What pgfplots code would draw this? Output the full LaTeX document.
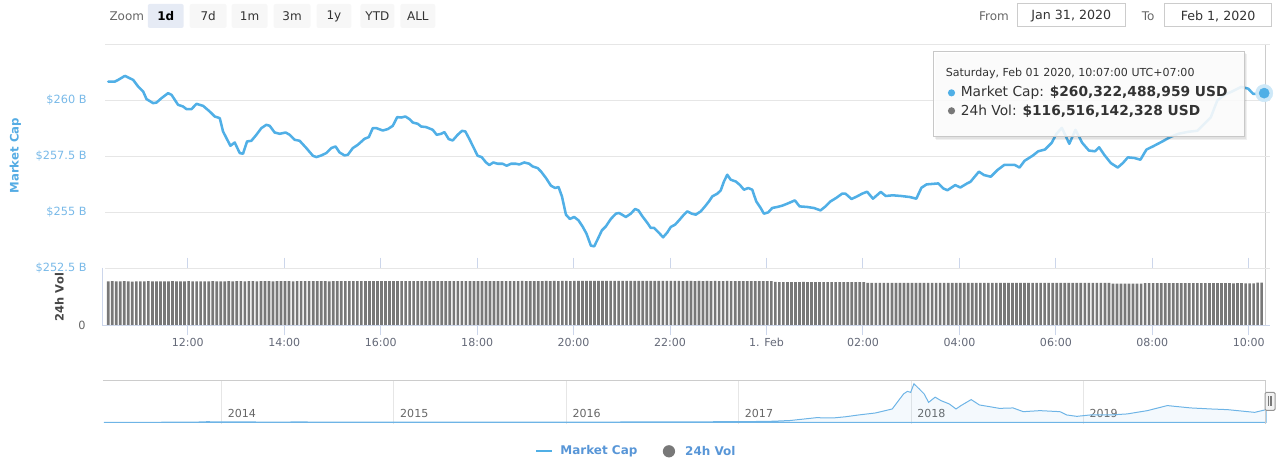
\documentclass[border=0pt]{standalone}
\usepackage{pgfplots}
\pgfplotsset{compat=1.18}
\usepackage{pgfplotstable}
\usepackage{fontspec}
\setmainfont{DejaVu Sans}
\definecolor{mcblue}{RGB}{80,175,230}
\definecolor{halo}{RGB}{205,232,248}
\definecolor{lblblue}{RGB}{120,185,232}
\definecolor{ttlblue}{RGB}{85,172,228}
\definecolor{gridc}{RGB}{230,230,230}
\definecolor{axc}{RGB}{204,214,235}
\definecolor{volgray}{RGB}{120,120,120}
\definecolor{tickc}{RGB}{100,105,120}
\definecolor{navline}{RGB}{110,180,230}
\definecolor{legblue}{RGB}{88,150,215}
\definecolor{btnbg}{RGB}{247,247,247}
\definecolor{btnsel}{RGB}{230,235,245}
\definecolor{txtc}{RGB}{51,51,51}
\definecolor{lgray}{RGB}{204,204,204}
\definecolor{midgray}{RGB}{102,102,102}
\definecolor{volttl}{RGB}{70,70,70}
\definecolor{hdlborder}{RGB}{150,150,150}
\definecolor{hdlfill}{RGB}{242,242,242}
\definecolor{hdlline}{RGB}{120,120,120}
\definecolor{ttborder}{RGB}{200,200,200}

\pgfplotstableread{
h v
10.350 260.839
10.489 260.839
10.557 260.915
10.696 261.094
10.867 260.915
10.971 260.616
11.075 260.393
11.145 260.054
11.282 259.875
11.352 259.902
11.455 260.098
11.592 260.321
11.663 260.246
11.799 259.799
11.903 259.723
11.973 259.607
12.077 259.607
12.180 259.844
12.317 259.754
12.455 259.500
12.559 259.277
12.663 259.205
12.731 258.607
12.801 258.312
12.884 257.969
12.973 258.116
13.077 257.643
13.145 257.612
13.228 258.161
13.319 258.192
13.422 258.460
13.526 258.759
13.629 258.906
13.698 258.862
13.801 258.562
13.905 258.504
14.029 258.562
14.112 258.460
14.215 258.237
14.319 258.192
14.458 257.866
14.594 257.522
14.665 257.464
14.768 257.536
14.872 257.643
14.975 257.866
15.064 257.937
15.147 257.670
15.251 257.536
15.319 257.567
15.422 257.866
15.526 258.013
15.665 258.281
15.754 258.357
15.836 258.759
15.907 258.759
16.043 258.652
16.147 258.714
16.251 258.862
16.342 259.250
16.424 259.232
16.513 259.277
16.596 259.161
16.665 259.009
16.768 258.951
16.839 258.830
16.942 258.804
17.079 258.683
17.161 258.460
17.253 258.504
17.321 258.580
17.410 258.268
17.493 258.205
17.596 258.460
17.687 258.638
17.756 258.607
17.839 258.268
17.921 257.911
18.010 257.522
18.093 257.464
18.184 257.223
18.253 257.107
18.335 257.223
18.424 257.165
18.528 257.165
18.611 257.076
18.702 257.165
18.805 257.165
18.874 257.134
18.977 257.223
19.081 257.165
19.149 257.045
19.253 256.973
19.323 256.821
19.427 256.527
19.530 256.183
19.619 256.080
19.687 256.125
19.758 255.705
19.841 254.888
19.923 254.696
20.012 254.786
20.101 254.634
20.184 254.366
20.267 254.040
20.358 253.504
20.427 253.473
20.495 253.772
20.586 254.187
20.669 254.366
20.772 254.696
20.876 254.933
20.944 254.964
21.083 254.786
21.186 254.933
21.275 255.143
21.344 255.080
21.427 254.812
21.530 254.518
21.600 254.295
21.669 254.295
21.772 254.071
21.855 253.875
21.944 254.098
22.015 254.339
22.104 254.442
22.186 254.634
22.269 254.844
22.358 255.036
22.449 254.933
22.532 254.888
22.636 255.036
22.725 255.259
22.807 255.482
22.876 255.705
22.979 255.826
23.050 255.973
23.118 256.375
23.186 256.674
23.257 256.451
23.360 256.375
23.443 256.228
23.532 256.004
23.621 256.080
23.704 256.004
23.787 255.482
23.878 255.187
23.946 254.933
24.035 254.991
24.118 255.187
24.222 255.232
24.325 255.290
24.429 255.379
24.588 255.527
24.685 255.259
24.843 255.232
24.981 255.187
25.120 255.080
25.224 255.259
25.327 255.482
25.443 255.634
25.567 255.826
25.638 255.826
25.762 255.589
25.878 255.705
25.981 255.826
26.085 255.915
26.207 255.603
26.369 255.906
26.472 255.723
26.617 255.754
26.791 255.723
26.965 255.679
27.106 255.603
27.211 256.089
27.317 256.241
27.563 256.286
27.667 256.058
27.752 255.982
27.913 256.210
28.019 256.103
28.159 256.286
28.230 256.362
28.404 256.812
28.509 256.661
28.650 256.585
28.791 256.888
28.932 257.116
29.143 257.116
29.246 256.996
29.352 257.299
29.528 257.540
29.634 257.723
29.772 257.799
29.913 258.103
30.012 258.504
30.124 258.772
30.278 258.058
30.406 258.683
30.545 258.103
30.685 257.754
30.812 257.723
30.896 257.902
31.002 257.567
31.141 257.192
31.282 256.996
31.387 257.192
31.493 257.451
31.634 257.420
31.752 257.344
31.878 257.799
32.021 257.951
32.195 258.147
32.371 258.357
32.538 258.504
32.745 258.594
32.932 258.638
33.077 258.951
33.211 259.237
33.346 259.991
33.491 260.246
33.636 260.379
33.843 260.603
33.988 260.522
34.091 260.290
34.195 260.290
34.319 260.322
}\mcdata

\pgfplotstableread{
yr v
2013.32 1.5
2013.60 1.2
2013.85 5
2013.92 14
2013.96 10
2014.05 11
2014.15 8
2014.30 6
2014.45 8
2014.60 6
2014.80 5
2014.95 4.5
2015.05 3
2015.30 3.5
2015.50 4.5
2015.70 3.8
2015.85 6
2016.00 7
2016.30 7
2016.45 11
2016.60 10
2016.80 11
2016.95 16
2017.10 18
2017.20 24
2017.30 40
2017.40 80
2017.45 100
2017.55 95
2017.62 120
2017.696 159
2017.794 202
2017.891 288
2017.957 613
2017.979 667
2017.998 645
2018.017 830
2018.047 722
2018.076 613
2018.102 430
2018.140 542
2018.173 469
2018.222 396
2018.261 288
2018.290 361
2018.349 490
2018.397 374
2018.446 344
2018.513 301
2018.592 310
2018.651 230
2018.748 252
2018.864 230
2018.903 159
2018.962 129
2019.040 159
2019.156 159
2019.254 181
2019.371 252
2019.487 361
2019.527 346
2019.624 310
2019.740 288
2019.838 273
2019.994 215
2020.060 273
}\navdata

\begin{document}
\begin{tikzpicture}
\begin{scope}[x=0.75pt,y=-0.75pt]
\path[use as bounding box] (0,0) rectangle (1280,463);
% crosshair
\draw[lgray, line width=0.75pt] (1267,44) -- (1267,326);
\end{scope}

% ---------- main market cap panel ----------
\begin{axis}[
  at={(78.75pt,-201.375pt)}, anchor=south west,
  width=875.25pt, height=168pt, scale only axis,
  xmin=10.28, xmax=34.44, ymin=252.5, ymax=262.5,
  axis line style={draw=none},
  xtick=\empty,
  ytick={252.5,255,257.5,260,262.5},
  yticklabels={\$252.5 B,\$255 B,\$257.5 B,\$260 B,{}},
  ymajorgrids, grid style={gridc, line width=0.75pt},
  major tick length=0pt,
  yticklabel style={font=\fontsize{8.5}{10}\selectfont, text=lblblue, inner sep=0pt, xshift=-13.5pt},
  clip=false,
]
\addplot[mcblue, line width=1.9pt, line join=round, line cap=round] table[x=h,y=v]{\mcdata};
\addplot[only marks, mark=*, mark size=6.5pt, color=halo, mark options={solid, fill=halo, draw=halo}] coordinates {(34.319,260.322)};
\addplot[only marks, mark=*, mark size=3.8pt, color=mcblue, mark options={solid, fill=mcblue, draw=mcblue}] coordinates {(34.319,260.322)};
\end{axis}

% ---------- volume panel ----------
\begin{axis}[
  at={(78.75pt,-244.5pt)}, anchor=south west,
  width=875.25pt, height=43.5pt, scale only axis,
  xmin=10.28, xmax=34.44, ymin=0, ymax=160,
  axis line style={draw=none},
  xtick={12,14,16,18,20,22,24,26,28,30,32,34},
  xticklabels={12:00,14:00,16:00,18:00,20:00,22:00,1. Feb,02:00,04:00,06:00,08:00,10:00},
  xtick style={draw=axc, line width=0.75pt},
  tick align=outside, major tick length=7.5pt,
  xticklabel style={font=\fontsize{8.3}{10}\selectfont, text=tickc, yshift=1.5pt},
  ytick={0}, yticklabels={0}, ytick style={draw=none},
  yticklabel style={font=\fontsize{8.5}{10}\selectfont, text=midgray, inner sep=0pt, xshift=-6.75pt},
  ybar, bar width=2pt,
]
\addplot[fill=volgray, draw=none] table[x expr=10.35+\coordindex/12, y index=0, header=false, row sep=\\] {
121.8\\122.3\\121.6\\122.0\\122.4\\121.9\\121.5\\122.2\\122.0\\121.7\\122.3\\122.1\\
121.9\\122.2\\121.6\\122.0\\122.4\\121.8\\122.1\\121.7\\122.3\\122.0\\121.9\\122.2\\
122.0\\121.8\\122.3\\122.1\\121.7\\122.2\\122.4\\122.0\\122.6\\122.3\\122.1\\122.5\\
122.4\\122.2\\122.6\\122.3\\122.5\\122.1\\122.4\\122.7\\122.3\\122.5\\122.2\\122.6\\
122.4\\122.8\\122.5\\122.3\\122.6\\122.4\\122.7\\122.2\\122.5\\122.6\\122.3\\122.4\\
122.7\\122.5\\122.8\\122.4\\122.6\\122.3\\122.5\\122.7\\122.4\\122.6\\122.8\\122.5\\
122.6\\122.4\\122.7\\122.5\\122.3\\122.6\\122.8\\122.4\\122.5\\122.7\\122.6\\122.4\\
122.5\\122.7\\122.3\\122.6\\122.4\\122.8\\122.5\\122.6\\122.7\\122.4\\122.5\\122.6\\
122.6\\122.8\\122.5\\122.7\\122.9\\122.6\\122.8\\123.0\\122.7\\122.9\\122.8\\122.6\\
122.9\\123.1\\122.8\\123.0\\122.9\\123.2\\123.0\\122.8\\123.1\\123.3\\123.0\\123.2\\
123.1\\123.3\\123.0\\123.2\\123.4\\123.1\\123.3\\123.2\\123.0\\123.4\\123.2\\123.1\\
123.3\\123.0\\123.2\\123.4\\123.1\\123.3\\123.2\\123.0\\123.1\\123.3\\123.2\\122.9\\
123.0\\123.2\\122.9\\123.1\\122.8\\123.0\\122.9\\123.1\\122.8\\122.9\\123.0\\122.7\\
122.8\\122.9\\122.6\\122.8\\122.7\\122.9\\122.6\\122.8\\122.7\\122.5\\120.2\\120.0\\
119.8\\120.1\\119.9\\120.0\\119.7\\120.2\\119.9\\120.0\\119.8\\120.1\\119.9\\119.7\\
120.0\\119.8\\120.1\\119.9\\119.7\\120.0\\119.8\\119.9\\119.7\\117.9\\117.7\\118.0\\
117.8\\117.6\\117.9\\117.7\\118.0\\117.8\\117.6\\117.9\\117.7\\117.8\\118.0\\117.7\\
117.9\\117.6\\117.8\\117.7\\118.0\\117.8\\117.9\\117.6\\117.8\\117.7\\117.9\\117.8\\
117.6\\117.9\\117.7\\117.8\\118.0\\117.7\\117.9\\117.6\\117.8\\117.9\\117.7\\117.8\\
117.9\\117.6\\117.8\\117.7\\118.0\\117.8\\117.6\\117.9\\117.7\\117.8\\117.9\\117.6\\
117.8\\117.7\\117.9\\117.6\\117.8\\117.9\\117.7\\117.8\\117.6\\117.9\\115.8\\115.6\\
115.7\\115.5\\115.8\\115.6\\115.7\\115.5\\117.2\\117.0\\117.1\\116.9\\117.2\\117.0\\
116.8\\117.1\\116.9\\117.0\\117.2\\116.8\\117.0\\116.9\\117.1\\116.8\\117.0\\116.9\\
117.1\\116.8\\117.0\\116.9\\116.7\\117.0\\116.8\\116.6\\116.7\\116.5\\118.4\\118.6\\
};
\end{axis}

% ---------- navigator ----------
\begin{axis}[
  at={(77.25pt,-318.75pt)}, anchor=south west,
  width=876.75pt, height=33pt, scale only axis,
  xmin=2013.311, xmax=2020.083, ymin=-43, ymax=903,
  axis line style={draw=none},
  xtick={2014,2015,2016,2017,2018,2019},
  xticklabels={2014,2015,2016,2017,2018,2019},
  xmajorgrids, grid style={gridc, line width=0.75pt},
  major tick length=0pt,
  xticklabel style={font=\fontsize{8.3}{10}\selectfont, text=midgray, anchor=south west, inner sep=0pt, xshift=4.5pt, yshift=4.5pt},
  ytick=\empty,
]
\addplot[draw=navline, line width=0.75pt, fill=navline, fill opacity=0.08] table[x=yr,y=v]{\navdata} \closedcycle;
\end{axis}

\begin{scope}[x=0.75pt,y=-0.75pt]
% volume axis lines
\draw[axc, line width=0.75pt] (102.5,268) -- (102.5,326.5);
\draw[axc, line width=0.75pt] (102,326.5) -- (1272,326.5);
% axis titles
\node[rotate=90, font=\bfseries\fontsize{8.8}{10}\selectfont, text=ttlblue] at (15.5,156) {Market Cap};
\node[rotate=90, font=\bfseries\fontsize{8.6}{10}\selectfont, text=volttl] at (59.5,297.5) {24h Vol};
% navigator outline and handle
\draw[lgray, line width=0.75pt] (103,381) -- (1267,381) -- (1267,425);
\draw[draw=hdlborder, fill=hdlfill, line width=0.75pt, rounded corners=1pt] (1267,393) rectangle (1277,411);
\draw[hdlline, line width=0.6pt] (1270.5,397) -- (1270.5,407) (1272,397) -- (1272,407) (1273.5,397) -- (1273.5,407);
% range selector
\node[anchor=west, font=\fontsize{9}{11}\selectfont, text=midgray] at (105,16) {Zoom};
\fill[btnsel, rounded corners=1.5pt] (148,4) rectangle (184,28);
\node[font=\bfseries\fontsize{9}{11}\selectfont, text=black] at (166,16) {1d};
\foreach \a/\b/\t in {190/227/7d, 232/268/1m, 274/311/3m, 317/352/1y, 361/395/YTD, 401/436/ALL}{
  \fill[btnbg, rounded corners=1.5pt] (\a,4) rectangle (\b,28);
  \node[font=\fontsize{9}{11}\selectfont, text=txtc] at ({(\a+\b)/2},16) {\t};
}
\node[anchor=west, font=\fontsize{9}{11}\selectfont, text=midgray] at (976,16) {From};
\draw[lgray, fill=white, line width=0.75pt] (1019,4) rectangle (1127,27);
\node[font=\fontsize{9.5}{11}\selectfont, text=txtc] at (1073,16) {Jan 31, 2020};
\node[font=\fontsize{9}{11}\selectfont, text=midgray] at (1150,16) {To};
\draw[lgray, fill=white, line width=0.75pt] (1166,4) rectangle (1273,27);
\node[font=\fontsize{9.5}{11}\selectfont, text=txtc] at (1220,16) {Feb 1, 2020};
% tooltip
\fill[black, opacity=0.06] (937,54) rectangle (1249,140);
\fill[black, opacity=0.06] (936,53) rectangle (1248,139);
\draw[draw=ttborder, fill=white, fill opacity=0.88, line width=0.75pt] (935,52) rectangle (1246,137);
\node[anchor=west, font=\fontsize{8.3}{10}\selectfont, text=txtc, inner sep=0pt] at (947,73.5) {Saturday, Feb 01 2020, 10:07:00 UTC+07:00};
\fill[mcblue] (953,93) circle (2.7pt);
\node[anchor=west, font=\fontsize{10.35}{12}\selectfont, text=txtc, inner sep=0pt] at (962,93) {Market Cap: \textbf{\$260,322,488,959 USD}};
\fill[volgray] (953,111) circle (2.7pt);
\node[anchor=west, font=\fontsize{10.35}{12}\selectfont, text=txtc, inner sep=0pt] at (962,111) {24h Vol: \textbf{\$116,516,142,328 USD}};
% legend
\draw[mcblue, line width=1.5pt] (537,452) -- (553,452);
\node[anchor=west, font=\bfseries\fontsize{9}{11}\selectfont, text=legblue, inner sep=0pt] at (561,452) {Market Cap};
\fill[volgray] (670,452) circle (4.6pt);
\node[anchor=west, font=\bfseries\fontsize{9}{11}\selectfont, text=legblue, inner sep=0pt] at (686,452) {24h Vol};
\end{scope}
\end{tikzpicture}
\end{document}
